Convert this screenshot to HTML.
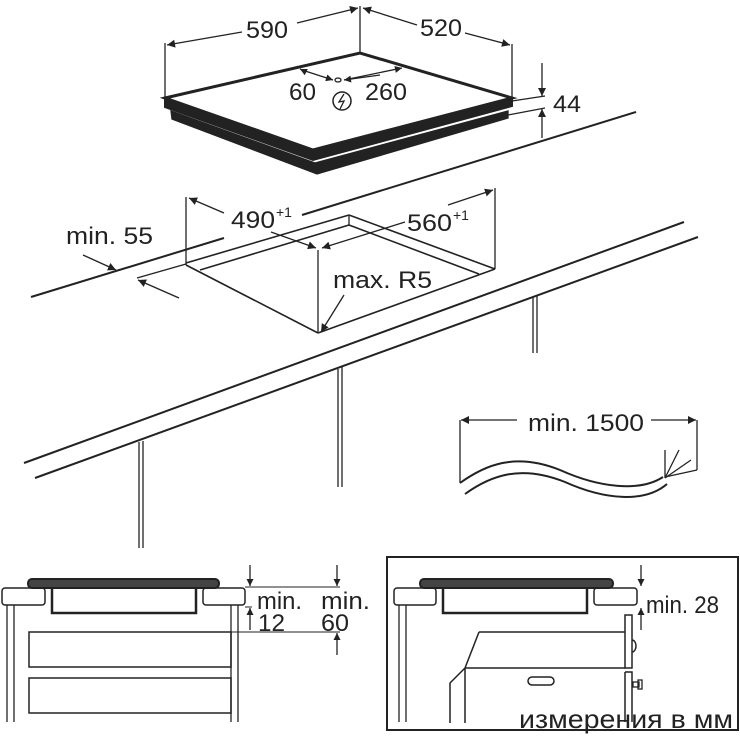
<!DOCTYPE html>
<html><head><meta charset="utf-8"><style>
html,body{margin:0;padding:0;background:#fff;}
svg{display:block;}
text{font-family:"Liberation Sans","DejaVu Sans",sans-serif;fill:#222;}
</style></head><body>
<svg width="740" height="740" viewBox="0 0 740 740" xmlns="http://www.w3.org/2000/svg">
<defs>
<marker id="a" viewBox="0 0 10 10" refX="10" refY="5" markerWidth="9" markerHeight="7" markerUnits="userSpaceOnUse" orient="auto"><path d="M0,0L10,5L0,10z" fill="#222"/></marker>
<marker id="b" viewBox="0 0 10 10" refX="10" refY="5" markerWidth="13" markerHeight="8" markerUnits="userSpaceOnUse" orient="auto"><path d="M0,0L10,5L0,10z" fill="#222"/></marker>
</defs>
<g stroke="#222" fill="none" stroke-width="1.3">
<polygon points="165,98 313,150 512,98 512,106 313,160 165,107" fill="#222" stroke="#222" stroke-width="2"/>
<polygon points="171,111 315,163 508,111 508,118 317,174 172,119" fill="#222" stroke="#222"/>
<polygon points="165,98 360,53 512,98 313,150" fill="#fff" stroke-width="3"/>
<line x1="165" y1="98" x2="165" y2="43"/>
<line x1="360" y1="53" x2="360" y2="6"/>
<line x1="512" y1="98" x2="512" y2="44"/>
<line x1="242" y1="32" x2="167" y2="45" marker-end="url(#b)"/>
<line x1="297" y1="23" x2="358" y2="8" marker-end="url(#b)"/>
<line x1="417" y1="25" x2="363" y2="8" marker-end="url(#b)"/>
<line x1="465" y1="33" x2="510" y2="45" marker-end="url(#b)"/>
<line x1="302" y1="70" x2="333" y2="80" marker-end="url(#a)"/>
<line x1="302" y1="70" x2="300" y2="69" marker-end="url(#a)"/>
<ellipse cx="338" cy="80" rx="3" ry="2"/>
<line x1="344" y1="80" x2="402" y2="68" marker-end="url(#a)"/>
<line x1="380" y1="75" x2="344" y2="80" marker-end="url(#a)"/>
<circle cx="342" cy="101" r="9" stroke-width="1.5"/>
<path d="M344,94 L339,102 L344,101 L340,109" stroke-width="1.3"/>
<line x1="512" y1="101" x2="545" y2="96"/>
<line x1="508" y1="115" x2="545" y2="108"/>
<line x1="542" y1="63" x2="542" y2="96" marker-end="url(#b)"/>
<line x1="542" y1="138" x2="542" y2="109" marker-end="url(#b)"/>
<line x1="31" y1="297" x2="224" y2="238" stroke-width="2"/>
<line x1="302" y1="215" x2="636" y2="112" stroke-width="2"/>
<line x1="137" y1="278" x2="186" y2="264"/>
<line x1="186" y1="197" x2="186" y2="265"/>
<line x1="495" y1="188" x2="495" y2="269"/>
<line x1="186" y1="263" x2="349" y2="215" stroke-width="1.6"/>
<line x1="200" y1="270" x2="349" y2="225" stroke-width="1.6"/>
<line x1="349" y1="215" x2="349" y2="225"/>
<line x1="349" y1="215" x2="495" y2="269" stroke-width="1.6"/>
<line x1="349" y1="225" x2="479" y2="274" stroke-width="1.6"/>
<line x1="186" y1="265" x2="318" y2="333" stroke-width="1.6"/>
<line x1="318" y1="333" x2="495" y2="269" stroke-width="1.6"/>
<line x1="318" y1="250" x2="318" y2="333"/>
<line x1="224" y1="213" x2="189" y2="198" marker-end="url(#b)"/>
<line x1="271" y1="232" x2="316" y2="248" marker-end="url(#b)"/>
<line x1="448" y1="205" x2="493" y2="190" marker-end="url(#b)"/>
<line x1="405" y1="222" x2="322" y2="248" marker-end="url(#b)"/>
<line x1="344" y1="295" x2="321" y2="332" marker-end="url(#b)"/>
<line x1="83" y1="255" x2="116" y2="270" marker-end="url(#b)"/>
<line x1="179" y1="298" x2="138" y2="280" marker-end="url(#b)"/>
<line x1="24" y1="463" x2="684" y2="222" stroke-width="2"/>
<line x1="35" y1="478" x2="698" y2="237" stroke-width="2"/>
<line x1="139" y1="442" x2="139" y2="548"/><line x1="143" y1="441" x2="143" y2="548"/>
<line x1="338" y1="369" x2="338" y2="487"/><line x1="342" y1="367" x2="342" y2="487"/>
<line x1="533" y1="297" x2="533" y2="353"/><line x1="537" y1="296" x2="537" y2="353"/>
<line x1="460" y1="420" x2="460" y2="483"/>
<line x1="697" y1="420" x2="697" y2="470"/>
<line x1="697" y1="470" x2="665" y2="477"/>
<line x1="517" y1="420" x2="461" y2="420" marker-end="url(#b)"/>
<line x1="651" y1="420" x2="696" y2="420" marker-end="url(#b)"/>
<path d="M460,483 C485,465 515,452 560,470 C600,488 640,492 663,477" stroke-width="2"/>
<path d="M465,494 C490,476 520,464 565,482 C605,500 645,503 667,484" stroke-width="2"/>
<path d="M665,478 L665,450 M665,478 L679,450 M665,478 L691,460"/>
<rect x="28" y="579" width="191" height="9" rx="4" fill="#444" stroke-width="2"/>
<rect x="2" y="588" width="43" height="17" rx="3" stroke-width="1.5"/>
<rect x="203" y="588" width="42" height="17" rx="3" stroke-width="1.5"/>
<path d="M52,588 V613 H196 V588" stroke-width="2.5"/>
<line x1="7" y1="605" x2="7" y2="722"/><line x1="14" y1="605" x2="14" y2="722"/>
<line x1="231" y1="605" x2="231" y2="722"/><line x1="238" y1="605" x2="238" y2="722"/>
<rect x="29" y="632" width="202" height="35" stroke-width="1.5"/>
<rect x="29" y="678" width="202" height="35" stroke-width="1.5"/>
<line x1="245" y1="587" x2="340" y2="587" stroke-width="1"/>
<line x1="245" y1="607" x2="252" y2="607" stroke-width="1"/>
<line x1="231" y1="632" x2="340" y2="632" stroke-width="1"/>
<line x1="250" y1="565" x2="250" y2="586" marker-end="url(#a)"/>
<line x1="337" y1="565" x2="337" y2="586" marker-end="url(#a)"/>
<line x1="250" y1="630" x2="250" y2="608" marker-end="url(#a)"/>
<line x1="337" y1="655" x2="337" y2="633" marker-end="url(#a)"/>
<rect x="387" y="557" width="351" height="173" stroke-width="2"/>
<rect x="420" y="579" width="193" height="9" rx="4" fill="#444" stroke-width="2"/>
<rect x="394" y="588" width="42" height="17" rx="3" stroke-width="1.5"/>
<rect x="594" y="588" width="43" height="17" rx="3" stroke-width="1.5"/>
<path d="M443,588 V613 H587 V588" stroke-width="2.5"/>
<line x1="399" y1="605" x2="399" y2="722"/><line x1="406" y1="605" x2="406" y2="722"/>
<line x1="641" y1="565" x2="641" y2="586" marker-end="url(#a)"/>
<line x1="641" y1="630" x2="641" y2="608" marker-end="url(#a)"/>
<line x1="479" y1="632" x2="625" y2="632" stroke-width="1.5"/>
<line x1="479" y1="632" x2="465" y2="668" stroke-width="1.5"/>
<line x1="465" y1="668" x2="625" y2="668" stroke-width="1.5"/>
<rect x="625" y="615" width="7" height="53" stroke-width="1.5"/>
<path d="M625,672 H632 V722 M625,672 V722" stroke-width="1.5"/>
<path d="M632,640 A4,6 0 0 1 632,652" stroke-width="1.5"/>
<rect x="633" y="682" width="6" height="5"/><rect x="638" y="680" width="4" height="9"/>
<path d="M465,668 L450,683 V723 M465,668 V723" stroke-width="1.5"/>
<rect x="528" y="677" width="26" height="8" rx="4" stroke-width="1.5"/>
</g>
<g font-size="24">
<text x="246" y="38" textLength="42" lengthAdjust="spacingAndGlyphs">590</text>
<text x="420" y="36" textLength="42" lengthAdjust="spacingAndGlyphs">520</text>
<text x="289" y="100" textLength="27" lengthAdjust="spacingAndGlyphs">60</text>
<text x="365" y="100" textLength="42" lengthAdjust="spacingAndGlyphs">260</text>
<text x="553" y="112" textLength="28" lengthAdjust="spacingAndGlyphs">44</text>
<text x="231" y="228" textLength="44" lengthAdjust="spacingAndGlyphs">490</text><text x="276" y="217" font-size="14">+1</text>
<text x="407" y="231" textLength="45" lengthAdjust="spacingAndGlyphs">560</text><text x="453" y="220" font-size="14">+1</text>
<text x="333" y="288" textLength="99" lengthAdjust="spacingAndGlyphs">max. R5</text>
<text x="66" y="244" textLength="87" lengthAdjust="spacingAndGlyphs">min. 55</text>
<text x="528" y="431" textLength="116" lengthAdjust="spacingAndGlyphs">min. 1500</text>
<text x="257" y="609" textLength="45" lengthAdjust="spacingAndGlyphs">min.</text>
<text x="258" y="631" textLength="27" lengthAdjust="spacingAndGlyphs">12</text>
<text x="321" y="609" textLength="49" lengthAdjust="spacingAndGlyphs">min.</text>
<text x="321" y="631" textLength="28" lengthAdjust="spacingAndGlyphs">60</text>
<text x="646" y="613" textLength="73" lengthAdjust="spacingAndGlyphs">min. 28</text>
<text x="519" y="728" font-size="26" textLength="214" lengthAdjust="spacingAndGlyphs">измерения в мм</text>
</g>
</svg>
</body></html>
